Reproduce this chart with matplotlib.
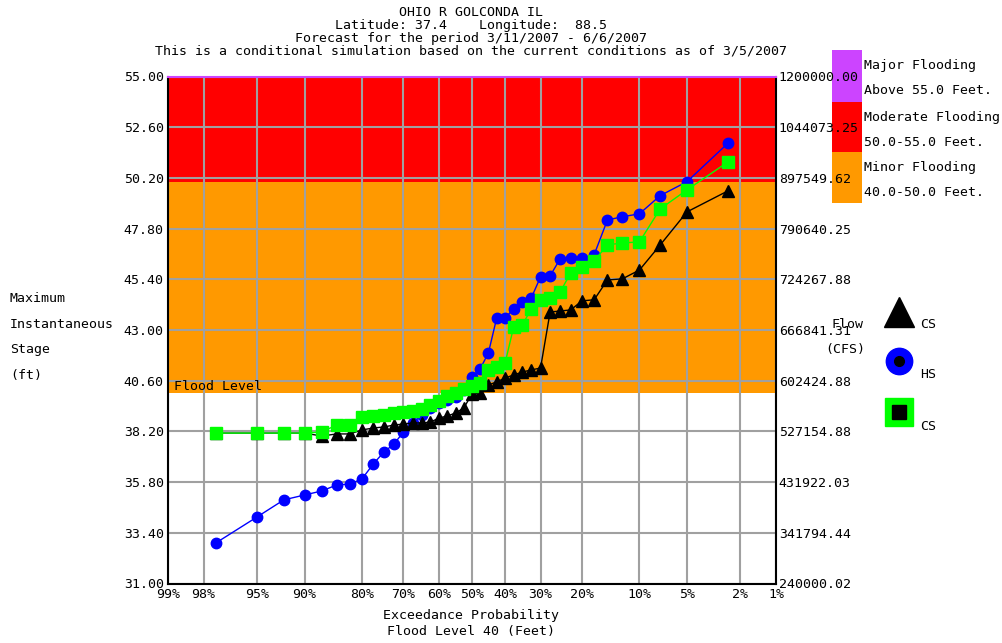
import matplotlib
matplotlib.use('Agg')
import matplotlib.pyplot as plt
from matplotlib.patches import Rectangle
from matplotlib.lines import Line2D
from statistics import NormalDist
import numpy as np

plt.rcParams['font.family'] = ['DejaVu Sans Mono']
plt.rcParams['font.size'] = 9.5

# exceedance probability (%) of each ranked ensemble trace
exceedance = [97.5, 95.0, 92.5, 90.0, 87.5, 85.0, 82.5, 80.0, 77.5, 75.0,
              72.5, 70.0, 67.5, 65.0, 62.5, 60.0, 57.5, 55.0, 52.5, 50.0,
              47.5, 45.0, 42.5, 40.0, 37.5, 35.0, 32.5, 30.0, 27.5, 25.0,
              22.5, 20.0, 17.5, 15.0, 12.5, 10.0, 7.5, 5.0, 2.5]

# black triangles (CS)
cs_stage = [38.12, 38.12, 38.12, 38.12, 37.98, 38.08, 38.08, 38.27, 38.36, 38.41,
            38.50, 38.55, 38.60, 38.60, 38.64, 38.83, 38.93, 39.07, 39.31, 39.97,
            40.02, 40.40, 40.54, 40.73, 40.87, 41.01, 41.11, 41.20, 43.85, 43.90,
            43.95, 44.38, 44.43, 45.37, 45.42, 45.84, 47.02, 48.59, 49.59]

# blue circles (HS)
hs_stage = [32.92, 34.15, 34.96, 35.19, 35.38, 35.66, 35.71, 35.95, 36.66, 37.22,
            37.60, 38.17, 38.60, 38.98, 39.31, 39.55, 39.69, 39.83, 40.16, 40.78,
            41.16, 41.92, 43.57, 43.57, 44.00, 44.33, 44.52, 45.51, 45.56, 46.37,
            46.41, 46.41, 46.56, 48.21, 48.36, 48.50, 49.36, 50.02, 51.85]

# green squares (CS)
cs_stage_2 = [38.12, 38.12, 38.12, 38.12, 38.17, 38.50, 38.50, 38.88, 38.93, 38.98,
              39.07, 39.12, 39.17, 39.26, 39.45, 39.64, 39.88, 40.02, 40.21, 40.36,
              40.49, 41.11, 41.25, 41.44, 43.14, 43.24, 44.00, 44.42, 44.52, 44.80,
              45.70, 45.98, 46.27, 47.03, 47.12, 47.17, 48.73, 49.63, 50.96]

stage_ticks = [31.0, 33.4, 35.8, 38.2, 40.6, 43.0, 45.4, 47.8, 50.2, 52.6, 55.0]
flow_labels = ['240000.02', '341794.44', '431922.03', '527154.88', '602424.88',
               '666841.31', '724267.88', '790640.25', '897549.62', '1044073.25',
               '1200000.00']
prob_ticks = [99, 98, 95, 90, 80, 70, 60, 50, 40, 30, 20, 10, 5, 2, 1]

flood_level = 40.0
minor_top = 50.0
moderate_top = 55.0

PURPLE = '#cc44ff'
RED = '#ff0000'
ORANGE = '#ff9900'
GREEN = '#00ff00'
BLUE = '#0000ff'

nd = NormalDist()


def to_z(p):
    p = np.clip(np.asarray(p, dtype=float), 1e-6, 100 - 1e-6)
    return np.vectorize(nd.inv_cdf, otypes=[float])(p / 100.0)


def from_z(z):
    return np.vectorize(nd.cdf, otypes=[float])(np.asarray(z, dtype=float)) * 100.0


W, H = 1003, 643
fig = plt.figure(figsize=(W / 100, H / 100), dpi=100)
ax = fig.add_axes([168 / W, 1 - 583.5 / H, (776 - 168) / W, (583.5 - 76.5) / H])

ax.set_xscale('function', functions=(to_z, from_z))
ax.set_xlim(99, 1)
ax.set_ylim(stage_ticks[0], stage_ticks[-1])

# flood category bands
ax.axhspan(flood_level, minor_top, color=ORANGE, lw=0, zorder=0)
ax.axhspan(minor_top, moderate_top, color=RED, lw=0, zorder=0)

ax.set_xticks(prob_ticks)
ax.set_xticklabels([f'{p}%' for p in prob_ticks])
ax.set_yticks(stage_ticks)
ax.set_yticklabels([f'{v:.2f}' for v in stage_ticks])
ax.tick_params(length=0, pad=3)
ax.xaxis.set_minor_locator(matplotlib.ticker.NullLocator())
ax.grid(True, color='#a0a0a0', lw=1.5)

for side in ['left', 'bottom', 'right']:
    ax.spines[side].set_color('black')
    ax.spines[side].set_linewidth(1.5)
ax.spines['top'].set_color(PURPLE)
ax.spines['top'].set_linewidth(1.5)

ax.plot(exceedance, hs_stage, color=BLUE, lw=1, marker='o', ms=7.5,
        mec=BLUE, mfc=BLUE, zorder=3)
ax.plot(exceedance, cs_stage, color='black', lw=1, marker='^', ms=8,
        mec='black', mfc='black', zorder=4)
ax.plot(exceedance, cs_stage_2, color=GREEN, lw=1, marker='s', ms=8,
        mec=GREEN, mfc=GREEN, zorder=5)

ax.text(0.01, flood_level, 'Flood Level', transform=ax.get_yaxis_transform(),
        va='bottom', ha='left', zorder=6)

# flow axis on the right
ax2 = ax.twinx()
ax2.set_ylim(ax.get_ylim())
ax2.set_yticks(stage_ticks)
ax2.set_yticklabels(flow_labels)
ax2.tick_params(length=0, pad=2)
for s in ax2.spines.values():
    s.set_visible(False)

# titles
title_lines = ['OHIO R GOLCONDA IL',
               'Latitude: 37.4    Longitude:  88.5',
               'Forecast for the period 3/11/2007 - 6/6/2007',
               'This is a conditional simulation based on the current conditions as of 3/5/2007']
for i, line in enumerate(title_lines):
    fig.text(471 / W, 1 - (13 + 12.7 * i) / H, line, ha='center', va='center')

fig.text(471 / W, 1 - 615 / H, 'Exceedance Probability', ha='center', va='center')
fig.text(471 / W, 1 - 632 / H, 'Flood Level 40 (Feet)', ha='center', va='center')

for i, line in enumerate(['Maximum', 'Instantaneous', 'Stage', '(ft)']):
    fig.text(10 / W, 1 - (299 + 25.5 * i) / H, line, ha='left', va='center')

fig.text(848 / W, 1 - 324 / H, 'Flow', ha='center', va='center')
fig.text(845 / W, 1 - 349 / H, '(CFS)', ha='center', va='center')

# flood category key (drawn beneath the flow tick labels)
key = [(PURPLE, 50, 102, 'Major Flooding', 'Above 55.0 Feet.'),
       (RED, 102, 152, 'Moderate Flooding', '50.0-55.0 Feet.'),
       (ORANGE, 152, 203, 'Minor Flooding', '40.0-50.0 Feet.')]
for color, top, bot, l1, l2 in key:
    fig.add_artist(Rectangle((832 / W, 1 - bot / H), 30 / W, (bot - top) / H,
                             transform=fig.transFigure, color=color, lw=0,
                             zorder=-1))
    fig.text(864 / W, 1 - (top + 16) / H, l1, ha='left', va='center')
    fig.text(864 / W, 1 - (top + 41) / H, l2, ha='left', va='center')

# series key
fig.add_artist(Line2D([899 / W], [1 - 312 / H], transform=fig.transFigure,
                      marker='^', ms=21, color='black', ls='none'))
fig.text(920 / W, 1 - 324 / H, 'CS', ha='left', va='center')
fig.add_artist(Line2D([899 / W], [1 - 361 / H], transform=fig.transFigure,
                      marker='o', ms=19, color=BLUE, ls='none'))
fig.add_artist(Line2D([899 / W], [1 - 361 / H], transform=fig.transFigure,
                      marker='o', ms=7, color='black', ls='none'))
fig.text(920 / W, 1 - 375 / H, 'HS', ha='left', va='center')
fig.add_artist(Line2D([899 / W], [1 - 412 / H], transform=fig.transFigure,
                      marker='s', ms=20, color=GREEN, ls='none'))
fig.add_artist(Line2D([899 / W], [1 - 412 / H], transform=fig.transFigure,
                      marker='s', ms=10.5, color='black', ls='none'))
fig.text(920 / W, 1 - 426 / H, 'CS', ha='left', va='center')

fig.savefig('out.png', dpi=100, facecolor='white')
